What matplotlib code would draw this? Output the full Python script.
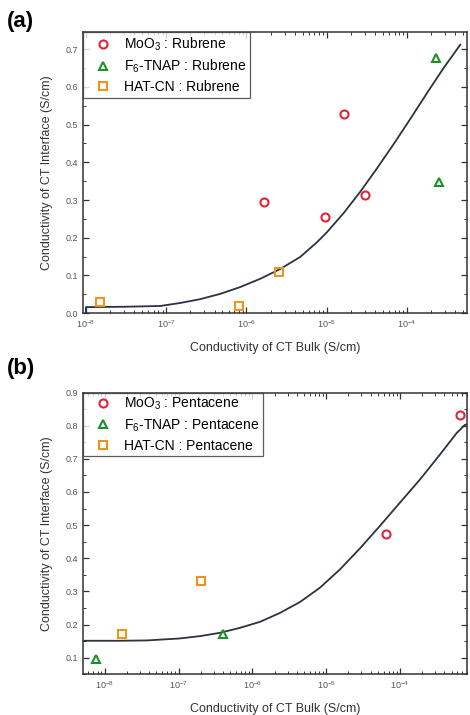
import matplotlib.pyplot as plt
from matplotlib.ticker import LogLocator, MultipleLocator, NullFormatter

plt.rcParams['font.family'] = ['Liberation Sans', 'DejaVu Sans']
plt.rcParams['mathtext.fontset'] = 'custom'
plt.rcParams['mathtext.rm'] = 'Liberation Sans'
plt.rcParams['mathtext.it'] = 'Liberation Sans:italic'

# ---- panel (a): Rubrene ----
a_moo3_x = [1.67e-6, 9.4e-6, 1.66e-5, 3.0e-5]
a_moo3_y = [0.295, 0.256, 0.529, 0.312]
a_f6_x = [2.32e-4, 2.5e-4]
a_f6_y = [0.676, 0.349]
a_hat_x = [1.5e-8, 8.0e-7, 2.58e-6]
a_hat_y = [0.029, 0.019, 0.110]
a_fit_x = [1.0e-8, 1.0e-8, 3.0e-8, 8.4e-8, 1.49e-7, 2.64e-7, 4.69e-7, 8.3e-7,
           1.48e-6, 2.63e-6, 4.67e-6, 7.55e-6, 1.0e-5, 1.62e-5, 2.62e-5,
           4.23e-5, 6.81e-5, 1.10e-4, 1.78e-4, 2.86e-4, 4.62e-4]
a_fit_y = [0.0, 0.016, 0.017, 0.019, 0.027, 0.037, 0.051, 0.069,
           0.091, 0.117, 0.149, 0.188, 0.214, 0.265, 0.322,
           0.384, 0.448, 0.515, 0.584, 0.650, 0.712]

# ---- panel (b): Pentacene ----
b_moo3_x = [6.5e-5, 6.4e-4]
b_moo3_y = [0.473, 0.833]
b_f6_x = [7.5e-9, 4.0e-7]
b_f6_y = [0.095, 0.170]
b_hat_x = [1.7e-8, 2.0e-7]
b_hat_y = [0.171, 0.331]
b_fit_x = [5.0e-9, 1.5e-8, 3.7e-8, 1.04e-7, 1.94e-7, 3.62e-7, 6.78e-7, 1.26e-6,
           2.36e-6, 4.41e-6, 8.2e-6, 1.53e-5, 2.87e-5, 5.36e-5, 1.0e-4,
           1.87e-4, 3.48e-4, 5.87e-4, 7.6e-4, 8.9e-4]
b_fit_y = [0.151, 0.151, 0.152, 0.158, 0.165, 0.175, 0.190, 0.208,
           0.235, 0.268, 0.311, 0.366, 0.430, 0.498, 0.568,
           0.638, 0.713, 0.778, 0.803, 0.803]

RED = '#d8283a'
GREEN = '#1f8f2c'
ORANGE = '#f0921c'


def draw_panel(ax, host, series, fit, xlim, ylim, yticks):
    """Scatter the three acceptor series and the fitted curve on one axes"""
    ax.plot(fit[0], fit[1], color='#2b3340', lw=1.3, zorder=2)
    markers = [('o', RED, 'MoO$_3$', 5.8), ('^', GREEN, 'F$_6$-TNAP', 6.3),
               ('s', ORANGE, 'HAT-CN', 5.6)]
    for (xs, ys), (m, c, name, size) in zip(series, markers):
        ax.plot(xs, ys, ls='none', marker=m, ms=size, mfc='none', mec=c, mew=1.5,
                label=name + ' : ' + host, zorder=3)
    ax.set_xscale('log')
    ax.set_xlim(*xlim)
    ax.set_ylim(*ylim)
    ax.set_yticks(yticks)
    ax.yaxis.set_minor_locator(MultipleLocator(0.05))
    ax.xaxis.set_major_locator(LogLocator(base=10, numticks=20))
    ax.xaxis.set_minor_locator(LogLocator(base=10, subs=range(2, 10), numticks=20))
    ax.xaxis.set_minor_formatter(NullFormatter())
    ax.tick_params(which='both', direction='in', top=True, right=True,
                   labelsize=6.5, labelcolor='#555555', color='#333333')
    ax.tick_params(which='major', length=4, width=0.9)
    ax.tick_params(which='minor', length=2.2, width=0.7)
    for s in ax.spines.values():
        s.set_linewidth(1.1)
        s.set_color('#333333')
    ax.set_xlabel('Conductivity of CT Bulk (S/cm)', fontsize=9, color='#333333', labelpad=9)
    ax.set_ylabel('Conductivity of CT Interface (S/cm)', fontsize=9, color='#333333', labelpad=9)
    leg = ax.legend(loc='upper left', fontsize=10, frameon=True, fancybox=False,
                    borderaxespad=0, handletextpad=0.35, borderpad=0.25,
                    labelspacing=0.35, handlelength=2.4)
    leg.get_frame().set_edgecolor('#333333')
    leg.get_frame().set_linewidth(0.9)


fig = plt.figure(figsize=(4.7, 7.15), dpi=100)

ax_a = fig.add_axes([0.176, 0.562, 0.818, 0.393])
draw_panel(ax_a, 'Rubrene',
           [(a_moo3_x, a_moo3_y), (a_f6_x, a_f6_y), (a_hat_x, a_hat_y)],
           (a_fit_x, a_fit_y), (10 ** -8.04, 10 ** -3.25), (0.0, 0.745),
           [0.0, 0.1, 0.2, 0.3, 0.4, 0.5, 0.6, 0.7])

ax_b = fig.add_axes([0.176, 0.057, 0.818, 0.394])
draw_panel(ax_b, 'Pentacene',
           [(b_moo3_x, b_moo3_y), (b_f6_x, b_f6_y), (b_hat_x, b_hat_y)],
           (b_fit_x, b_fit_y), (10 ** -8.30, 10 ** -3.09), (0.05, 0.9),
           [0.1, 0.2, 0.3, 0.4, 0.5, 0.6, 0.7, 0.8, 0.9])

fig.text(0.015, 0.984, '(a)', fontsize=16, fontweight='bold', va='top', ha='left')
fig.text(0.015, 0.499, '(b)', fontsize=16, fontweight='bold', va='top', ha='left')

plt.savefig('out.png', dpi=100)
